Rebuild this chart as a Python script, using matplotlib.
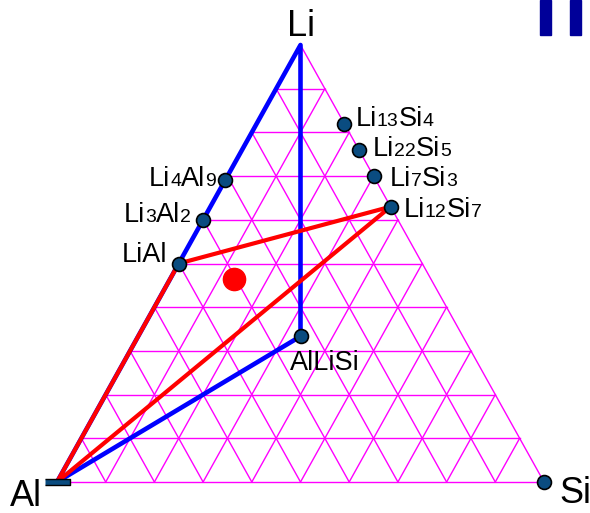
import re
import numpy as np
import matplotlib
matplotlib.use("Agg")
import matplotlib.pyplot as plt
from matplotlib.offsetbox import TextArea, HPacker, AnnotationBbox
from matplotlib.patches import Rectangle

plt.rcParams['font.family'] = ['Liberation Sans', 'DejaVu Sans']

# phases as (Li fraction, Si fraction), rest is Al
phase_names = ['Li4Al9', 'Li3Al2', 'LiAl', 'Li13Si4', 'Li22Si5', 'Li7Si3', 'Li12Si7', 'AlLiSi']
phase_li = [0.69, 0.60, 0.50, 0.82, 0.76, 0.70, 0.63, 1 / 3]
phase_si = [0.00, 0.00, 0.00, 0.18, 0.24, 0.30, 0.37, 1 / 3]

# corners
corner_names = ['Li', 'Al', 'Si']
corner_li = [1.0, 0.0, 0.0]
corner_si = [0.0, 0.0, 1.0]

# tie triangles
blue_path = ['Al', 'Li', 'AlLiSi', 'Al']
red_path = ['Al', 'LiAl', 'Li12Si7', 'Al']

# the composition marked in red
point_li = 0.465
point_si = 0.13

H = np.sqrt(3) / 2


def to_xy(li, si):
    return si + li / 2, li * H


comp = {n: (l, s) for n, l, s in zip(phase_names + corner_names,
                                     phase_li + corner_li, phase_si + corner_si)}

fig = plt.figure(figsize=(5.9, 5.13), dpi=100)
ax = fig.add_axes([0, 0, 1, 1])
ax.set_xlim(-57 / 487, 533 / 487)
ax.set_ylim(-31 / 504.6, 482 / 504.6)
ax.axis('off')

# grid every 10 %
grid = dict(color='#ff00ff', lw=1.0, zorder=1)
for c in np.arange(0, 1.01, 0.1):
    # constant Li
    ax.plot(*zip(to_xy(c, 0), to_xy(c, 1 - c)), **grid)
    # constant Si
    ax.plot(*zip(to_xy(0, c), to_xy(1 - c, c)), **grid)
    # constant Al
    ax.plot(*zip(to_xy(1 - c, 0), to_xy(0, 1 - c)), **grid)

bx, by = zip(*[to_xy(*comp[n]) for n in blue_path])
ax.plot(bx, by, color='#0000ff', lw=3.3, zorder=3, solid_capstyle='round')
rx, ry = zip(*[to_xy(*comp[n]) for n in red_path])
ax.plot(rx, ry, color='#ff0000', lw=3.0, zorder=4, solid_capstyle='round')

px, py = zip(*[to_xy(l, s) for l, s in zip(phase_li, phase_si)])
ax.plot(px, py, 'o', ms=10, mfc='#0a4c80', mec='black', mew=1.2, zorder=5)
sx, sy = to_xy(*comp['Si'])
ax.plot(sx, sy, 'o', ms=10, mfc='#0a4c80', mec='black', mew=1.2, zorder=5)
ax.plot(*to_xy(*comp['Al']), marker=[(-1.8, -0.5), (1.8, -0.5), (1.8, 0.5), (-1.8, 0.5)],
        ms=18, mfc='#0a4c80', mec='black', mew=1.0, zorder=5, ls='none')

ax.plot(*to_xy(point_li, point_si), 'o', ms=16, color='#ff0000', zorder=6)

# corner labels
corner_offsets = {'Li': (1, 9, 'center'), 'Al': (-31, -24, 'center'), 'Si': (15, -21, 'left')}
for n in corner_names:
    dx, dy, ha = corner_offsets[n]
    ax.annotate(n, to_xy(*comp[n]), xytext=(dx, dy), textcoords='offset pixels',
                ha=ha, va='baseline', fontsize=26, zorder=7)


def formula(name):
    kids = []
    for part in re.findall(r'[A-Za-z]+|\d+', name):
        if part.isdigit():
            kids.append(TextArea(part, textprops=dict(fontsize=14)))
        else:
            kids.append(TextArea(part, textprops=dict(fontsize=19.5)))
    return HPacker(children=kids, align='baseline', pad=0, sep=0)


# (dx, dy) of the label anchor from the dot, in pixels, and box alignment
label_place = {
    'Li4Al9': ((-9, 1), (1, 0.5)),
    'Li3Al2': ((-12, 5), (1, 0.5)),
    'LiAl': ((-11, 9), (1, 0.5)),
    'Li13Si4': ((11, 5), (0, 0.5)),
    'Li22Si5': ((14, 1), (0, 0.5)),
    'Li7Si3': ((16, -3), (0, 0.5)),
    'Li12Si7': ((13, -3), (0, 0.5)),
    'AlLiSi': ((-11, -14), (0, 1)),
}
for n, l, s in zip(phase_names, phase_li, phase_si):
    off, align = label_place[n]
    ab = AnnotationBbox(formula(n), to_xy(l, s), xybox=off, xycoords='data',
                        boxcoords='offset pixels', box_alignment=align,
                        frameon=False, pad=0, zorder=7)
    ax.add_artist(ab)

# the two bars in the top right corner
for x0 in (540, 570):
    fig.patches.append(Rectangle((x0 / 590, 1 - 35 / 513), 11 / 590, 35 / 513,
                                 transform=fig.transFigure, color='#000099'))

fig.savefig('out.png', dpi=100)
